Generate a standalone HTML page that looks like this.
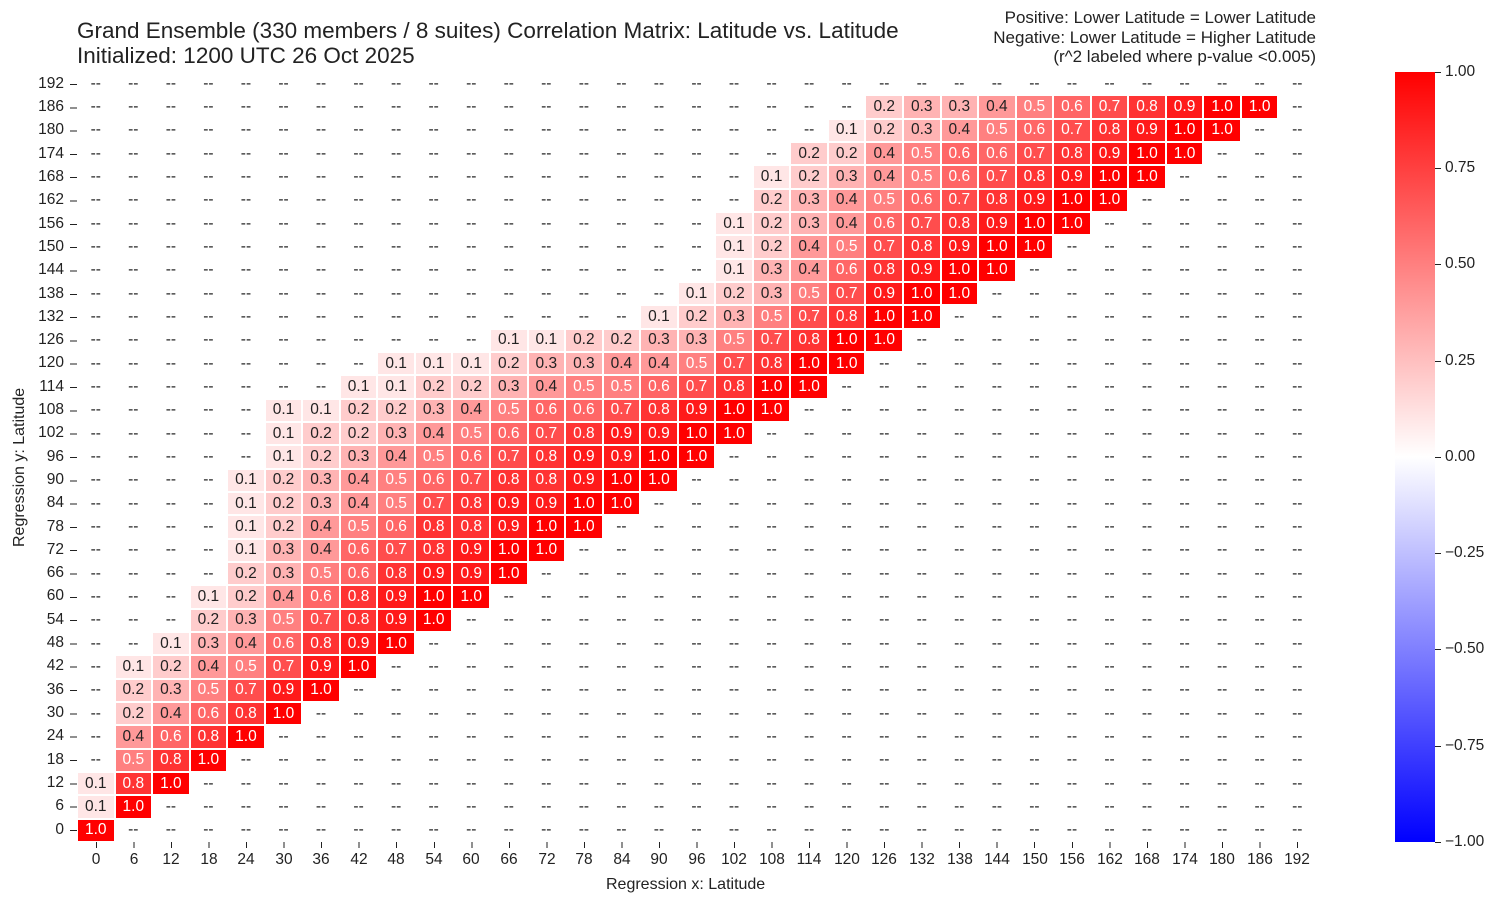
<!DOCTYPE html>
<html><head><meta charset="utf-8"><style>
body{margin:0;width:1503px;height:907px;background:#fff;font-family:"Liberation Sans",sans-serif;color:#222;position:relative;overflow:hidden}
.t{position:absolute;white-space:nowrap}
#g{position:absolute;left:77px;top:72px;width:1239px;height:770px;display:grid;grid-template-columns:repeat(33,1fr);grid-template-rows:repeat(33,1fr)}
#g i,#g b{font-style:normal;font-weight:normal;font-size:15.5px;display:flex;align-items:center;justify-content:center;box-sizing:border-box}
#g b{border:0.5px solid #fff}
.a1{background:#ffe6e6}.a2{background:#ffcccc}.a3{background:#ffb3b3}.a4{background:#ff9999}.a5{background:#ff8080;color:#fff}.a6{background:#ff6666;color:#fff}.a7{background:#ff4d4d;color:#fff}.a8{background:#ff3333;color:#fff}.a9{background:#ff1a1a;color:#fff}.a10{background:#ff0000;color:#fff}
.yl{position:absolute;left:0;width:64px;text-align:right;font-size:15.5px}
.xl{position:absolute;top:851px;width:40px;text-align:center;font-size:15.5px}
.cl{position:absolute;left:1445px;font-size:15.5px}
.ct{position:absolute;left:1435px;width:6px;height:1px;background:#222}
</style></head><body>
<div class="t" style="left:77px;top:18px;font-size:22.5px">Grand Ensemble (330 members / 8 suites) Correlation Matrix: Latitude vs. Latitude</div>
<div class="t" style="left:77px;top:43px;font-size:22.5px">Initialized: 1200 UTC 26 Oct 2025</div>
<div class="t" style="right:187px;top:8px;font-size:17px;text-align:right;line-height:19.5px">Positive: Lower Latitude = Lower Latitude<br>Negative: Lower Latitude = Higher Latitude<br>(r^2 labeled where p-value &lt;0.005)</div>
<div id="g">
<i>--</i><i>--</i><i>--</i><i>--</i><i>--</i><i>--</i><i>--</i><i>--</i><i>--</i><i>--</i><i>--</i><i>--</i><i>--</i><i>--</i><i>--</i><i>--</i><i>--</i><i>--</i><i>--</i><i>--</i><i>--</i><i>--</i><i>--</i><i>--</i><i>--</i><i>--</i><i>--</i><i>--</i><i>--</i><i>--</i><i>--</i><i>--</i><i>--</i>
<i>--</i><i>--</i><i>--</i><i>--</i><i>--</i><i>--</i><i>--</i><i>--</i><i>--</i><i>--</i><i>--</i><i>--</i><i>--</i><i>--</i><i>--</i><i>--</i><i>--</i><i>--</i><i>--</i><i>--</i><i>--</i><b class=a2>0.2</b><b class=a3>0.3</b><b class=a3>0.3</b><b class=a4>0.4</b><b class=a5>0.5</b><b class=a6>0.6</b><b class=a7>0.7</b><b class=a8>0.8</b><b class=a9>0.9</b><b class=a10>1.0</b><b class=a10>1.0</b><i>--</i>
<i>--</i><i>--</i><i>--</i><i>--</i><i>--</i><i>--</i><i>--</i><i>--</i><i>--</i><i>--</i><i>--</i><i>--</i><i>--</i><i>--</i><i>--</i><i>--</i><i>--</i><i>--</i><i>--</i><i>--</i><b class=a1>0.1</b><b class=a2>0.2</b><b class=a3>0.3</b><b class=a4>0.4</b><b class=a5>0.5</b><b class=a6>0.6</b><b class=a7>0.7</b><b class=a8>0.8</b><b class=a9>0.9</b><b class=a10>1.0</b><b class=a10>1.0</b><i>--</i><i>--</i>
<i>--</i><i>--</i><i>--</i><i>--</i><i>--</i><i>--</i><i>--</i><i>--</i><i>--</i><i>--</i><i>--</i><i>--</i><i>--</i><i>--</i><i>--</i><i>--</i><i>--</i><i>--</i><i>--</i><b class=a2>0.2</b><b class=a2>0.2</b><b class=a4>0.4</b><b class=a5>0.5</b><b class=a6>0.6</b><b class=a6>0.6</b><b class=a7>0.7</b><b class=a8>0.8</b><b class=a9>0.9</b><b class=a10>1.0</b><b class=a10>1.0</b><i>--</i><i>--</i><i>--</i>
<i>--</i><i>--</i><i>--</i><i>--</i><i>--</i><i>--</i><i>--</i><i>--</i><i>--</i><i>--</i><i>--</i><i>--</i><i>--</i><i>--</i><i>--</i><i>--</i><i>--</i><i>--</i><b class=a1>0.1</b><b class=a2>0.2</b><b class=a3>0.3</b><b class=a4>0.4</b><b class=a5>0.5</b><b class=a6>0.6</b><b class=a7>0.7</b><b class=a8>0.8</b><b class=a9>0.9</b><b class=a10>1.0</b><b class=a10>1.0</b><i>--</i><i>--</i><i>--</i><i>--</i>
<i>--</i><i>--</i><i>--</i><i>--</i><i>--</i><i>--</i><i>--</i><i>--</i><i>--</i><i>--</i><i>--</i><i>--</i><i>--</i><i>--</i><i>--</i><i>--</i><i>--</i><i>--</i><b class=a2>0.2</b><b class=a3>0.3</b><b class=a4>0.4</b><b class=a5>0.5</b><b class=a6>0.6</b><b class=a7>0.7</b><b class=a8>0.8</b><b class=a9>0.9</b><b class=a10>1.0</b><b class=a10>1.0</b><i>--</i><i>--</i><i>--</i><i>--</i><i>--</i>
<i>--</i><i>--</i><i>--</i><i>--</i><i>--</i><i>--</i><i>--</i><i>--</i><i>--</i><i>--</i><i>--</i><i>--</i><i>--</i><i>--</i><i>--</i><i>--</i><i>--</i><b class=a1>0.1</b><b class=a2>0.2</b><b class=a3>0.3</b><b class=a4>0.4</b><b class=a6>0.6</b><b class=a7>0.7</b><b class=a8>0.8</b><b class=a9>0.9</b><b class=a10>1.0</b><b class=a10>1.0</b><i>--</i><i>--</i><i>--</i><i>--</i><i>--</i><i>--</i>
<i>--</i><i>--</i><i>--</i><i>--</i><i>--</i><i>--</i><i>--</i><i>--</i><i>--</i><i>--</i><i>--</i><i>--</i><i>--</i><i>--</i><i>--</i><i>--</i><i>--</i><b class=a1>0.1</b><b class=a2>0.2</b><b class=a4>0.4</b><b class=a5>0.5</b><b class=a7>0.7</b><b class=a8>0.8</b><b class=a9>0.9</b><b class=a10>1.0</b><b class=a10>1.0</b><i>--</i><i>--</i><i>--</i><i>--</i><i>--</i><i>--</i><i>--</i>
<i>--</i><i>--</i><i>--</i><i>--</i><i>--</i><i>--</i><i>--</i><i>--</i><i>--</i><i>--</i><i>--</i><i>--</i><i>--</i><i>--</i><i>--</i><i>--</i><i>--</i><b class=a1>0.1</b><b class=a3>0.3</b><b class=a4>0.4</b><b class=a6>0.6</b><b class=a8>0.8</b><b class=a9>0.9</b><b class=a10>1.0</b><b class=a10>1.0</b><i>--</i><i>--</i><i>--</i><i>--</i><i>--</i><i>--</i><i>--</i><i>--</i>
<i>--</i><i>--</i><i>--</i><i>--</i><i>--</i><i>--</i><i>--</i><i>--</i><i>--</i><i>--</i><i>--</i><i>--</i><i>--</i><i>--</i><i>--</i><i>--</i><b class=a1>0.1</b><b class=a2>0.2</b><b class=a3>0.3</b><b class=a5>0.5</b><b class=a7>0.7</b><b class=a9>0.9</b><b class=a10>1.0</b><b class=a10>1.0</b><i>--</i><i>--</i><i>--</i><i>--</i><i>--</i><i>--</i><i>--</i><i>--</i><i>--</i>
<i>--</i><i>--</i><i>--</i><i>--</i><i>--</i><i>--</i><i>--</i><i>--</i><i>--</i><i>--</i><i>--</i><i>--</i><i>--</i><i>--</i><i>--</i><b class=a1>0.1</b><b class=a2>0.2</b><b class=a3>0.3</b><b class=a5>0.5</b><b class=a7>0.7</b><b class=a8>0.8</b><b class=a10>1.0</b><b class=a10>1.0</b><i>--</i><i>--</i><i>--</i><i>--</i><i>--</i><i>--</i><i>--</i><i>--</i><i>--</i><i>--</i>
<i>--</i><i>--</i><i>--</i><i>--</i><i>--</i><i>--</i><i>--</i><i>--</i><i>--</i><i>--</i><i>--</i><b class=a1>0.1</b><b class=a1>0.1</b><b class=a2>0.2</b><b class=a2>0.2</b><b class=a3>0.3</b><b class=a3>0.3</b><b class=a5>0.5</b><b class=a7>0.7</b><b class=a8>0.8</b><b class=a10>1.0</b><b class=a10>1.0</b><i>--</i><i>--</i><i>--</i><i>--</i><i>--</i><i>--</i><i>--</i><i>--</i><i>--</i><i>--</i><i>--</i>
<i>--</i><i>--</i><i>--</i><i>--</i><i>--</i><i>--</i><i>--</i><i>--</i><b class=a1>0.1</b><b class=a1>0.1</b><b class=a1>0.1</b><b class=a2>0.2</b><b class=a3>0.3</b><b class=a3>0.3</b><b class=a4>0.4</b><b class=a4>0.4</b><b class=a5>0.5</b><b class=a7>0.7</b><b class=a8>0.8</b><b class=a10>1.0</b><b class=a10>1.0</b><i>--</i><i>--</i><i>--</i><i>--</i><i>--</i><i>--</i><i>--</i><i>--</i><i>--</i><i>--</i><i>--</i><i>--</i>
<i>--</i><i>--</i><i>--</i><i>--</i><i>--</i><i>--</i><i>--</i><b class=a1>0.1</b><b class=a1>0.1</b><b class=a2>0.2</b><b class=a2>0.2</b><b class=a3>0.3</b><b class=a4>0.4</b><b class=a5>0.5</b><b class=a5>0.5</b><b class=a6>0.6</b><b class=a7>0.7</b><b class=a8>0.8</b><b class=a10>1.0</b><b class=a10>1.0</b><i>--</i><i>--</i><i>--</i><i>--</i><i>--</i><i>--</i><i>--</i><i>--</i><i>--</i><i>--</i><i>--</i><i>--</i><i>--</i>
<i>--</i><i>--</i><i>--</i><i>--</i><i>--</i><b class=a1>0.1</b><b class=a1>0.1</b><b class=a2>0.2</b><b class=a2>0.2</b><b class=a3>0.3</b><b class=a4>0.4</b><b class=a5>0.5</b><b class=a6>0.6</b><b class=a6>0.6</b><b class=a7>0.7</b><b class=a8>0.8</b><b class=a9>0.9</b><b class=a10>1.0</b><b class=a10>1.0</b><i>--</i><i>--</i><i>--</i><i>--</i><i>--</i><i>--</i><i>--</i><i>--</i><i>--</i><i>--</i><i>--</i><i>--</i><i>--</i><i>--</i>
<i>--</i><i>--</i><i>--</i><i>--</i><i>--</i><b class=a1>0.1</b><b class=a2>0.2</b><b class=a2>0.2</b><b class=a3>0.3</b><b class=a4>0.4</b><b class=a5>0.5</b><b class=a6>0.6</b><b class=a7>0.7</b><b class=a8>0.8</b><b class=a9>0.9</b><b class=a9>0.9</b><b class=a10>1.0</b><b class=a10>1.0</b><i>--</i><i>--</i><i>--</i><i>--</i><i>--</i><i>--</i><i>--</i><i>--</i><i>--</i><i>--</i><i>--</i><i>--</i><i>--</i><i>--</i><i>--</i>
<i>--</i><i>--</i><i>--</i><i>--</i><i>--</i><b class=a1>0.1</b><b class=a2>0.2</b><b class=a3>0.3</b><b class=a4>0.4</b><b class=a5>0.5</b><b class=a6>0.6</b><b class=a7>0.7</b><b class=a8>0.8</b><b class=a9>0.9</b><b class=a9>0.9</b><b class=a10>1.0</b><b class=a10>1.0</b><i>--</i><i>--</i><i>--</i><i>--</i><i>--</i><i>--</i><i>--</i><i>--</i><i>--</i><i>--</i><i>--</i><i>--</i><i>--</i><i>--</i><i>--</i><i>--</i>
<i>--</i><i>--</i><i>--</i><i>--</i><b class=a1>0.1</b><b class=a2>0.2</b><b class=a3>0.3</b><b class=a4>0.4</b><b class=a5>0.5</b><b class=a6>0.6</b><b class=a7>0.7</b><b class=a8>0.8</b><b class=a8>0.8</b><b class=a9>0.9</b><b class=a10>1.0</b><b class=a10>1.0</b><i>--</i><i>--</i><i>--</i><i>--</i><i>--</i><i>--</i><i>--</i><i>--</i><i>--</i><i>--</i><i>--</i><i>--</i><i>--</i><i>--</i><i>--</i><i>--</i><i>--</i>
<i>--</i><i>--</i><i>--</i><i>--</i><b class=a1>0.1</b><b class=a2>0.2</b><b class=a3>0.3</b><b class=a4>0.4</b><b class=a5>0.5</b><b class=a7>0.7</b><b class=a8>0.8</b><b class=a9>0.9</b><b class=a9>0.9</b><b class=a10>1.0</b><b class=a10>1.0</b><i>--</i><i>--</i><i>--</i><i>--</i><i>--</i><i>--</i><i>--</i><i>--</i><i>--</i><i>--</i><i>--</i><i>--</i><i>--</i><i>--</i><i>--</i><i>--</i><i>--</i><i>--</i>
<i>--</i><i>--</i><i>--</i><i>--</i><b class=a1>0.1</b><b class=a2>0.2</b><b class=a4>0.4</b><b class=a5>0.5</b><b class=a6>0.6</b><b class=a8>0.8</b><b class=a8>0.8</b><b class=a9>0.9</b><b class=a10>1.0</b><b class=a10>1.0</b><i>--</i><i>--</i><i>--</i><i>--</i><i>--</i><i>--</i><i>--</i><i>--</i><i>--</i><i>--</i><i>--</i><i>--</i><i>--</i><i>--</i><i>--</i><i>--</i><i>--</i><i>--</i><i>--</i>
<i>--</i><i>--</i><i>--</i><i>--</i><b class=a1>0.1</b><b class=a3>0.3</b><b class=a4>0.4</b><b class=a6>0.6</b><b class=a7>0.7</b><b class=a8>0.8</b><b class=a9>0.9</b><b class=a10>1.0</b><b class=a10>1.0</b><i>--</i><i>--</i><i>--</i><i>--</i><i>--</i><i>--</i><i>--</i><i>--</i><i>--</i><i>--</i><i>--</i><i>--</i><i>--</i><i>--</i><i>--</i><i>--</i><i>--</i><i>--</i><i>--</i><i>--</i>
<i>--</i><i>--</i><i>--</i><i>--</i><b class=a2>0.2</b><b class=a3>0.3</b><b class=a5>0.5</b><b class=a6>0.6</b><b class=a8>0.8</b><b class=a9>0.9</b><b class=a9>0.9</b><b class=a10>1.0</b><i>--</i><i>--</i><i>--</i><i>--</i><i>--</i><i>--</i><i>--</i><i>--</i><i>--</i><i>--</i><i>--</i><i>--</i><i>--</i><i>--</i><i>--</i><i>--</i><i>--</i><i>--</i><i>--</i><i>--</i><i>--</i>
<i>--</i><i>--</i><i>--</i><b class=a1>0.1</b><b class=a2>0.2</b><b class=a4>0.4</b><b class=a6>0.6</b><b class=a8>0.8</b><b class=a9>0.9</b><b class=a10>1.0</b><b class=a10>1.0</b><i>--</i><i>--</i><i>--</i><i>--</i><i>--</i><i>--</i><i>--</i><i>--</i><i>--</i><i>--</i><i>--</i><i>--</i><i>--</i><i>--</i><i>--</i><i>--</i><i>--</i><i>--</i><i>--</i><i>--</i><i>--</i><i>--</i>
<i>--</i><i>--</i><i>--</i><b class=a2>0.2</b><b class=a3>0.3</b><b class=a5>0.5</b><b class=a7>0.7</b><b class=a8>0.8</b><b class=a9>0.9</b><b class=a10>1.0</b><i>--</i><i>--</i><i>--</i><i>--</i><i>--</i><i>--</i><i>--</i><i>--</i><i>--</i><i>--</i><i>--</i><i>--</i><i>--</i><i>--</i><i>--</i><i>--</i><i>--</i><i>--</i><i>--</i><i>--</i><i>--</i><i>--</i><i>--</i>
<i>--</i><i>--</i><b class=a1>0.1</b><b class=a3>0.3</b><b class=a4>0.4</b><b class=a6>0.6</b><b class=a8>0.8</b><b class=a9>0.9</b><b class=a10>1.0</b><i>--</i><i>--</i><i>--</i><i>--</i><i>--</i><i>--</i><i>--</i><i>--</i><i>--</i><i>--</i><i>--</i><i>--</i><i>--</i><i>--</i><i>--</i><i>--</i><i>--</i><i>--</i><i>--</i><i>--</i><i>--</i><i>--</i><i>--</i><i>--</i>
<i>--</i><b class=a1>0.1</b><b class=a2>0.2</b><b class=a4>0.4</b><b class=a5>0.5</b><b class=a7>0.7</b><b class=a9>0.9</b><b class=a10>1.0</b><i>--</i><i>--</i><i>--</i><i>--</i><i>--</i><i>--</i><i>--</i><i>--</i><i>--</i><i>--</i><i>--</i><i>--</i><i>--</i><i>--</i><i>--</i><i>--</i><i>--</i><i>--</i><i>--</i><i>--</i><i>--</i><i>--</i><i>--</i><i>--</i><i>--</i>
<i>--</i><b class=a2>0.2</b><b class=a3>0.3</b><b class=a5>0.5</b><b class=a7>0.7</b><b class=a9>0.9</b><b class=a10>1.0</b><i>--</i><i>--</i><i>--</i><i>--</i><i>--</i><i>--</i><i>--</i><i>--</i><i>--</i><i>--</i><i>--</i><i>--</i><i>--</i><i>--</i><i>--</i><i>--</i><i>--</i><i>--</i><i>--</i><i>--</i><i>--</i><i>--</i><i>--</i><i>--</i><i>--</i><i>--</i>
<i>--</i><b class=a2>0.2</b><b class=a4>0.4</b><b class=a6>0.6</b><b class=a8>0.8</b><b class=a10>1.0</b><i>--</i><i>--</i><i>--</i><i>--</i><i>--</i><i>--</i><i>--</i><i>--</i><i>--</i><i>--</i><i>--</i><i>--</i><i>--</i><i>--</i><i>--</i><i>--</i><i>--</i><i>--</i><i>--</i><i>--</i><i>--</i><i>--</i><i>--</i><i>--</i><i>--</i><i>--</i><i>--</i>
<i>--</i><b class=a4>0.4</b><b class=a6>0.6</b><b class=a8>0.8</b><b class=a10>1.0</b><i>--</i><i>--</i><i>--</i><i>--</i><i>--</i><i>--</i><i>--</i><i>--</i><i>--</i><i>--</i><i>--</i><i>--</i><i>--</i><i>--</i><i>--</i><i>--</i><i>--</i><i>--</i><i>--</i><i>--</i><i>--</i><i>--</i><i>--</i><i>--</i><i>--</i><i>--</i><i>--</i><i>--</i>
<i>--</i><b class=a5>0.5</b><b class=a8>0.8</b><b class=a10>1.0</b><i>--</i><i>--</i><i>--</i><i>--</i><i>--</i><i>--</i><i>--</i><i>--</i><i>--</i><i>--</i><i>--</i><i>--</i><i>--</i><i>--</i><i>--</i><i>--</i><i>--</i><i>--</i><i>--</i><i>--</i><i>--</i><i>--</i><i>--</i><i>--</i><i>--</i><i>--</i><i>--</i><i>--</i><i>--</i>
<b class=a1>0.1</b><b class=a8>0.8</b><b class=a10>1.0</b><i>--</i><i>--</i><i>--</i><i>--</i><i>--</i><i>--</i><i>--</i><i>--</i><i>--</i><i>--</i><i>--</i><i>--</i><i>--</i><i>--</i><i>--</i><i>--</i><i>--</i><i>--</i><i>--</i><i>--</i><i>--</i><i>--</i><i>--</i><i>--</i><i>--</i><i>--</i><i>--</i><i>--</i><i>--</i><i>--</i>
<b class=a1>0.1</b><b class=a10>1.0</b><i>--</i><i>--</i><i>--</i><i>--</i><i>--</i><i>--</i><i>--</i><i>--</i><i>--</i><i>--</i><i>--</i><i>--</i><i>--</i><i>--</i><i>--</i><i>--</i><i>--</i><i>--</i><i>--</i><i>--</i><i>--</i><i>--</i><i>--</i><i>--</i><i>--</i><i>--</i><i>--</i><i>--</i><i>--</i><i>--</i><i>--</i>
<b class=a10>1.0</b><i>--</i><i>--</i><i>--</i><i>--</i><i>--</i><i>--</i><i>--</i><i>--</i><i>--</i><i>--</i><i>--</i><i>--</i><i>--</i><i>--</i><i>--</i><i>--</i><i>--</i><i>--</i><i>--</i><i>--</i><i>--</i><i>--</i><i>--</i><i>--</i><i>--</i><i>--</i><i>--</i><i>--</i><i>--</i><i>--</i><i>--</i><i>--</i>
</div>
<div class="yl" style="top:75px">192</div><div class="yl" style="top:98px">186</div><div class="yl" style="top:121px">180</div><div class="yl" style="top:145px">174</div><div class="yl" style="top:168px">168</div><div class="yl" style="top:191px">162</div><div class="yl" style="top:215px">156</div><div class="yl" style="top:238px">150</div><div class="yl" style="top:261px">144</div><div class="yl" style="top:285px">138</div><div class="yl" style="top:308px">132</div><div class="yl" style="top:331px">126</div><div class="yl" style="top:354px">120</div><div class="yl" style="top:378px">114</div><div class="yl" style="top:401px">108</div><div class="yl" style="top:424px">102</div><div class="yl" style="top:448px">96</div><div class="yl" style="top:471px">90</div><div class="yl" style="top:494px">84</div><div class="yl" style="top:518px">78</div><div class="yl" style="top:541px">72</div><div class="yl" style="top:564px">66</div><div class="yl" style="top:587px">60</div><div class="yl" style="top:611px">54</div><div class="yl" style="top:634px">48</div><div class="yl" style="top:657px">42</div><div class="yl" style="top:681px">36</div><div class="yl" style="top:704px">30</div><div class="yl" style="top:727px">24</div><div class="yl" style="top:751px">18</div><div class="yl" style="top:774px">12</div><div class="yl" style="top:797px">6</div><div class="yl" style="top:821px">0</div>
<div style="position:absolute;left:70px;top:84px;width:7px;height:747px;background:repeating-linear-gradient(to bottom,#222 0,#222 1px,transparent 1px,transparent 23.31px)"></div>
<div style="position:absolute;left:96px;top:842px;width:1203px;height:6px;background:repeating-linear-gradient(to right,#222 0,#222 1px,transparent 1px,transparent 37.53px)"></div>
<div class="xl" style="left:76px">0</div><div class="xl" style="left:114px">6</div><div class="xl" style="left:151px">12</div><div class="xl" style="left:189px">18</div><div class="xl" style="left:226px">24</div><div class="xl" style="left:264px">30</div><div class="xl" style="left:301px">36</div><div class="xl" style="left:339px">42</div><div class="xl" style="left:376px">48</div><div class="xl" style="left:414px">54</div><div class="xl" style="left:451px">60</div><div class="xl" style="left:489px">66</div><div class="xl" style="left:527px">72</div><div class="xl" style="left:564px">78</div><div class="xl" style="left:602px">84</div><div class="xl" style="left:639px">90</div><div class="xl" style="left:677px">96</div><div class="xl" style="left:714px">102</div><div class="xl" style="left:752px">108</div><div class="xl" style="left:789px">114</div><div class="xl" style="left:827px">120</div><div class="xl" style="left:864px">126</div><div class="xl" style="left:902px">132</div><div class="xl" style="left:940px">138</div><div class="xl" style="left:977px">144</div><div class="xl" style="left:1015px">150</div><div class="xl" style="left:1052px">156</div><div class="xl" style="left:1090px">162</div><div class="xl" style="left:1127px">168</div><div class="xl" style="left:1165px">174</div><div class="xl" style="left:1202px">180</div><div class="xl" style="left:1240px">186</div><div class="xl" style="left:1277px">192</div>
<div class="t" style="left:606px;top:876px;font-size:16px">Regression x: Latitude</div>
<div class="t" style="left:11px;top:457px;font-size:16px;transform:rotate(-90deg);transform-origin:0 0;width:0"><span style="position:absolute;left:-90px;top:0">Regression y: Latitude</span></div>
<div style="position:absolute;left:1395px;top:72px;width:40px;height:770px;background:linear-gradient(to bottom,#ff0000,#ffffff 50%,#0000ff)"></div>
<div class="ct" style="top:72px"></div><div class="ct" style="top:168px"></div><div class="ct" style="top:264px"></div><div class="ct" style="top:361px"></div><div class="ct" style="top:457px"></div><div class="ct" style="top:553px"></div><div class="ct" style="top:649px"></div><div class="ct" style="top:746px"></div><div class="ct" style="top:842px"></div>
<div class="cl" style="top:63px">1.00</div><div class="cl" style="top:159px">0.75</div><div class="cl" style="top:255px">0.50</div><div class="cl" style="top:352px">0.25</div><div class="cl" style="top:448px">0.00</div><div class="cl" style="top:544px">−0.25</div><div class="cl" style="top:640px">−0.50</div><div class="cl" style="top:737px">−0.75</div><div class="cl" style="top:833px">−1.00</div>
</body></html>
